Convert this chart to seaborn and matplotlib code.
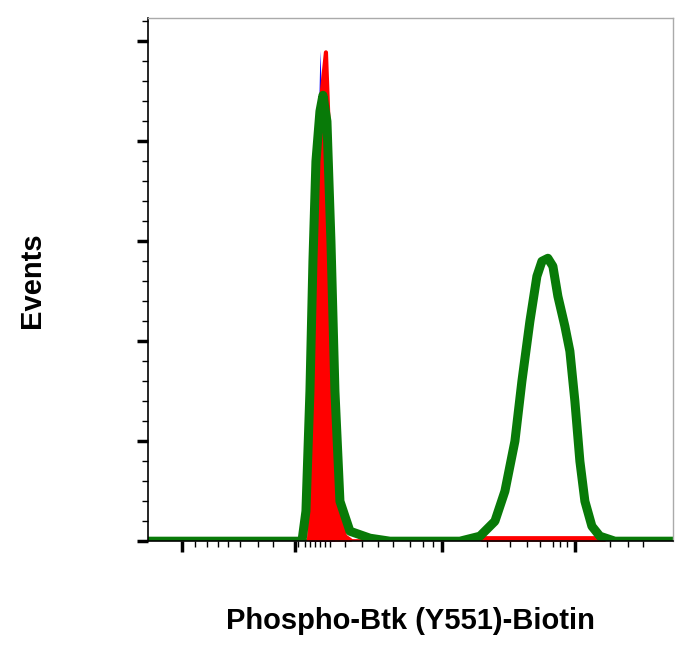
import numpy as np
import matplotlib
matplotlib.use('Agg')
import matplotlib.pyplot as plt
import seaborn as sns

sns.set_style('white')
plt.rcParams['font.family'] = ['Liberation Sans', 'DejaVu Sans']

# curves (channel position, event count)
blue_x = [148, 310, 314, 318, 320, 323, 326, 330, 335, 673]
blue_y = [0, 0, 150, 400, 491, 400, 200, 40, 0, 0]

red_x = [148, 309, 314, 318, 322, 326, 330, 334, 338, 345, 352, 480, 486, 600, 606, 673]
red_y = [0, 0, 100, 300, 450, 489, 380, 150, 40, 5, 0, 0, 3, 3, 0, 0]

green_x = [148, 302, 306, 310, 313, 316, 320, 323, 327, 331, 335, 340, 350, 370, 390,
           460, 480, 495, 505, 515, 522, 530, 537, 542, 548, 553, 558, 565, 570, 575,
           580, 585, 592, 600, 615, 673]
green_y = [0, 0, 30, 150, 280, 380, 430, 446, 420, 300, 150, 40, 10, 3, 0,
           0, 5, 20, 50, 100, 160, 220, 265, 280, 283, 275, 245, 215, 190, 140,
           80, 40, 15, 5, 0, 0]

x_major = [182, 295, 442, 575]
x_minor = [195, 207, 218, 228, 240, 258, 273, 298, 305, 310, 315, 320, 325, 330,
           345, 362, 378, 393, 410, 423, 433, 487, 510, 527, 540, 553, 560, 567,
           610, 628, 643]
y_major = [0, 100, 200, 300, 400, 500]

fig = plt.figure(figsize=(6.98, 6.56), dpi=100)
ax = fig.add_axes([0.212, 0.175, 0.752, 0.797])

ax.fill_between(blue_x, blue_y, color='#0000ff', lw=0)
ax.fill_between(red_x, red_y, color='#ff0000', lw=0)
ax.plot(red_x, red_y, color='#ff0000', lw=3)
sns.lineplot(x=green_x, y=green_y, color='#087a08', lw=6.5, ax=ax, sort=False)

ax.set_xlim(148, 673)
ax.set_ylim(0, 523)
ax.set_xticks(x_major)
ax.set_xticks(x_minor, minor=True)
ax.set_yticks(y_major)
ax.set_yticks(np.arange(0, 521, 20), minor=True)
ax.set_xticklabels([])
ax.set_yticklabels([])
ax.tick_params(axis='both', which='major', direction='out', length=8, width=2.5, color='black',
               bottom=True, left=True)
ax.tick_params(axis='both', which='minor', direction='out', length=4, width=1, color='black',
               bottom=True, left=True)
for s in ['top', 'right']:
    ax.spines[s].set_color('#aaaaaa')
    ax.spines[s].set_linewidth(1)
for s in ['bottom', 'left']:
    ax.spines[s].set_color('black')
    ax.spines[s].set_linewidth(1.2)

ax.set_xlabel('Phospho-Btk (Y551)-Biotin', fontsize=21, fontweight='bold', labelpad=34, color='black')
ax.set_ylabel('Events', fontsize=21, fontweight='bold', labelpad=62, color='black')
ax.xaxis.set_label_coords(0.5, -0.125)

plt.savefig('out.png', dpi=100)
